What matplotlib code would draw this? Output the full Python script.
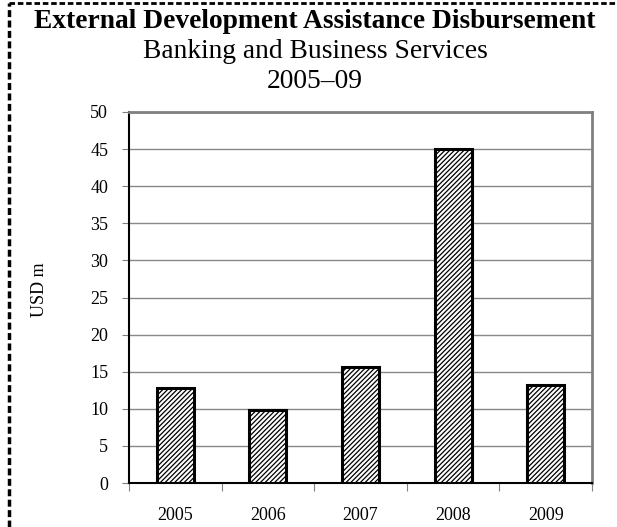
import matplotlib
matplotlib.use("Agg")
import matplotlib.pyplot as plt
from matplotlib.lines import Line2D

years = ["2005", "2006", "2007", "2008", "2009"]
values = [12.8, 9.8, 15.6, 45.0, 13.2]
yticks = [0, 5, 10, 15, 20, 25, 30, 35, 40, 45, 50]

plt.rcParams['font.family'] = ['Liberation Serif', 'DejaVu Serif']
plt.rcParams['hatch.linewidth'] = 0.9

W, H = 617, 527
fig = plt.figure(figsize=(W / 100, H / 100), dpi=100)
ax = fig.add_axes([129 / W, 1 - 483 / H, (592 - 129) / W, (483 - 112) / H])

x = list(range(len(years)))
ax.bar(x, values, width=0.4, color='white', edgecolor='black', linewidth=2.2,
       hatch='///////', zorder=3)

ax.set_xlim(-0.5, len(years) - 0.5)
ax.set_ylim(0, 50)
ax.set_yticks(yticks)
ax.set_yticklabels([str(v) for v in yticks], fontsize=13)
ax.set_xticks([i - 0.5 for i in range(len(years) + 1)])
ax.set_xticklabels([])
ax.set_xticks(x, minor=True)
ax.set_xticklabels(years, minor=True, fontsize=13)
ax.tick_params(axis='x', which='minor', length=0, pad=17)
ax.tick_params(axis='x', which='major', length=6, color='#808080', direction='out')
ax.tick_params(axis='y', length=5, color='#808080', direction='out', pad=10)

ax.grid(axis='y', color='#888888', linewidth=1.0, zorder=0)
ax.set_axisbelow(True)

ax.spines['left'].set_color('black')
ax.spines['left'].set_linewidth(1.5)
ax.spines['bottom'].set_color('black')
ax.spines['bottom'].set_linewidth(1.5)
ax.spines['top'].set_color('#808080')
ax.spines['top'].set_linewidth(2.0)
ax.spines['right'].set_color('#808080')
ax.spines['right'].set_linewidth(2.0)

fig.text(40 / W, 1 - 290 / H, "USD m", rotation=90, ha='center', va='center', fontsize=13)

fig.text(315 / W, 1 - 21 / H, "External Development Assistance Disbursement",
         ha='center', va='center', fontsize=19.8, fontweight='bold')
fig.text(315 / W, 1 - 51 / H, "Banking and Business Services",
         ha='center', va='center', fontsize=19.8)
fig.text(315 / W, 1 - 82 / H, "2005\u201309",
         ha='center', va='center', fontsize=19.8)

# dashed border (left and top)
fig.add_artist(Line2D([8.5 / W, 8.5 / W], [0, 1 - 3 / H], transform=fig.transFigure,
                      color='black', linewidth=2.5, linestyle=(0, (2, 1))))
fig.add_artist(Line2D([8.5 / W, 1], [1 - 3 / H, 1 - 3 / H], transform=fig.transFigure,
                      color='black', linewidth=2.0, linestyle=(0, (2, 1))))

fig.savefig("out.png", dpi=100)
